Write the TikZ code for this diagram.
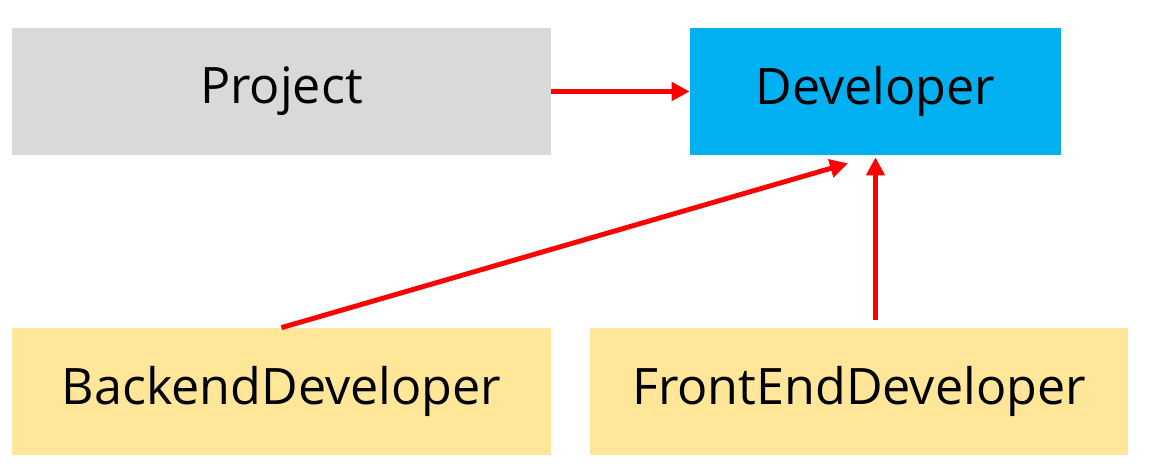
\documentclass[tikz,border=0pt]{standalone}
\usepackage{fontspec}
\setmainfont{Open Sans}
\usepackage{xcolor}
\usetikzlibrary{positioning,calc,arrows.meta}
\definecolor{boxgray}{HTML}{D9D9D9}
\definecolor{boxblue}{HTML}{00B0F0}
\definecolor{boxyellow}{HTML}{FFE699}
\begin{document}
\begin{tikzpicture}[
    classbox/.style={rectangle, minimum height=2.54cm, inner sep=0pt, font=\fontsize{28.6}{32}\selectfont},
    inherit/.style={draw=red, line width=2.8pt, -{Triangle[length=0.36cm, width=0.36cm]}}
]
    \useasboundingbox (0,0) rectangle (23.08,9.48);

    \node[classbox, fill=boxgray, minimum width=10.78cm] (project) at (5.63, 7.65) {Project};
    \node[classbox, fill=boxblue, minimum width=7.42cm] (developer) at (17.51, 7.65) {Developer};
    \node[classbox, fill=boxyellow, minimum width=10.78cm] (backend) at (5.63, 1.65) {BackendDeveloper};
    \node[classbox, fill=boxyellow, minimum width=10.76cm] (frontend) at (17.18, 1.65) {FrontEndDeveloper};

    \draw[inherit] (project.east) -- (developer.west);
    \draw[inherit] (backend.north) -- ([xshift=-0.55cm, yshift=-0.16cm]developer.south);
    \draw[inherit, shorten <=0.16cm, shorten >=0.04cm] (frontend.north -| developer.south) -- (developer.south);
\end{tikzpicture}
\end{document}
